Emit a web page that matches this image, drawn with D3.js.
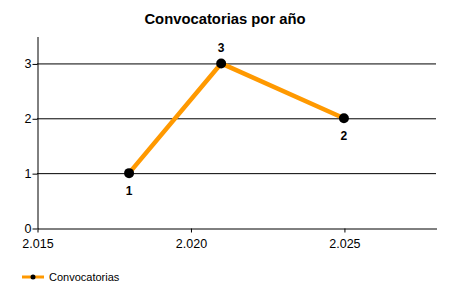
<!DOCTYPE html>
<html>
<head>
<meta charset="utf-8">
<script src="https://cdn.jsdelivr.net/npm/d3@7"></script>
<style>
  body { margin: 0; background: #fff; }
  text { font-family: "Liberation Sans", Arial, sans-serif; }
</style>
</head>
<body>
<svg id="chart" width="450" height="300"></svg>
<script>
// DATA -----------------------------------------------------------------------

var years = [2018, 2021, 2025];
var counts = [1, 3, 2];
var labelPos = ["below", "above", "below"];
var xTicks = [2015, 2020, 2025];
var yTicks = [0, 1, 2, 3];
var seriesName = "Convocatorias";
var title = "Convocatorias por año";

// SETUP ----------------------------------------------------------------------

var svg = d3.select("#chart");
var orange = "rgb(255,153,0)";

var x = d3.scaleLinear().domain([2015, 2028]).range([37, 436]);
var y = d3.scaleLinear().domain([0, 3.5]).range([228, 36]);

// spanish-style thousands separator: 2015 -> 2.015
var fmtYear = function(d) { return d3.format(",")(d).replace(",", "."); };

svg.append("text")
   .attr("x", 225).attr("y", 24)
   .attr("text-anchor", "middle")
   .attr("font-size", 14.8).attr("font-weight", "bold")
   .text(title);

// gridlines
svg.selectAll(".grid").data(yTicks.filter(function(d) { return d > 0; }))
   .enter().append("line")
   .attr("x1", x(2015)).attr("x2", x(2028))
   .attr("y1", function(d) { return y(d) + 0.5; })
   .attr("y2", function(d) { return y(d) + 0.5; })
   .attr("stroke", "#000").attr("stroke-width", 1);

// axes
var xAxis = d3.axisBottom(x).tickValues(xTicks).tickFormat(fmtYear)
   .tickSize(4).tickSizeOuter(0);
svg.append("g").attr("transform", "translate(0.5,228.5)").call(xAxis)
   .call(function(g) {
       g.select(".domain").attr("stroke", "#000");
       g.selectAll("text").attr("font-size", 12.5).attr("fill", "#000")
        .attr("dy", "1.0em");
   });

var yAxis = d3.axisLeft(y).tickValues(yTicks).tickFormat(d3.format("d"))
   .tickSize(5).tickSizeOuter(0);
svg.append("g").attr("transform", "translate(37.5,0.5)").call(yAxis)
   .call(function(g) {
       g.select(".domain").attr("stroke", "#000");
       g.selectAll("text").attr("font-size", 12.5).attr("fill", "#000")
        .attr("x", -6);
   });

// series
var pts = years.map(function(d, i) { return [d, counts[i], labelPos[i]]; });

svg.append("path")
   .datum(pts)
   .attr("fill", "none")
   .attr("stroke", orange)
   .attr("stroke-width", 4.5)
   .attr("stroke-linejoin", "round")
   .attr("d", d3.line().x(function(d) { return x(d[0]); }).y(function(d) { return y(d[1]); }));

svg.selectAll(".pt").data(pts).enter()
   .append("circle")
   .attr("cx", function(d) { return x(d[0]); })
   .attr("cy", function(d) { return y(d[1]); })
   .attr("r", 5).attr("fill", "#000");

svg.selectAll(".lbl").data(pts).enter()
   .append("text")
   .attr("x", function(d) { return x(d[0]); })
   .attr("y", function(d) { return d[2] == "above" ? y(d[1]) - 11 : y(d[1]) + 22; })
   .attr("text-anchor", "middle")
   .attr("font-size", 12).attr("font-weight", "bold")
   .text(function(d) { return d[1]; });

// legend
var leg = svg.append("g").attr("transform", "translate(22,277)");
leg.append("line").attr("x1", 0).attr("x2", 22).attr("y1", 0).attr("y2", 0)
   .attr("stroke", orange).attr("stroke-width", 3);
leg.append("circle").attr("cx", 11).attr("cy", 0).attr("r", 2.5).attr("fill", "#000");
leg.append("text").attr("x", 27).attr("y", 4)
   .attr("font-size", 11).text(seriesName);
</script>
</body>
</html>
